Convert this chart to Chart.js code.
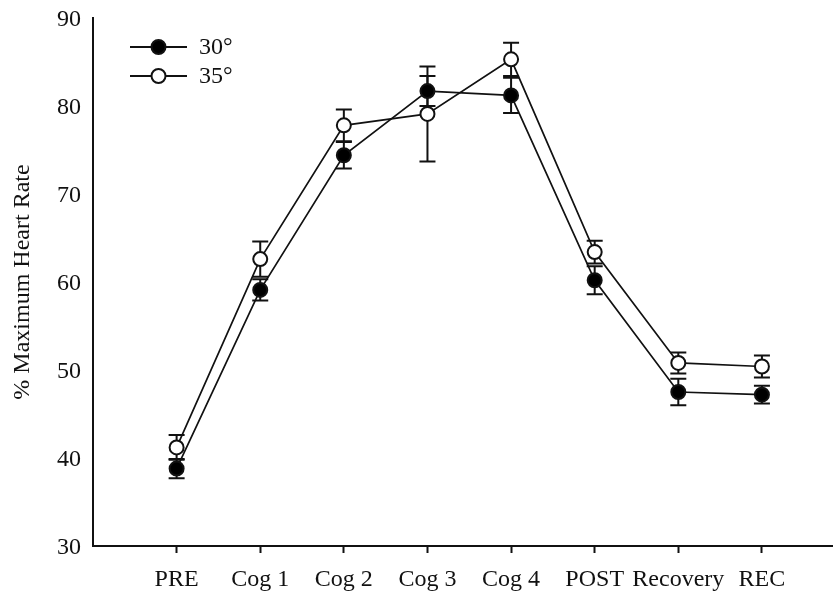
<!DOCTYPE html>
<html>
<head>
<meta charset="utf-8">
<script src="https://cdn.jsdelivr.net/npm/chart.js@4/dist/chart.umd.min.js"></script>
<style>
  html, body { margin: 0; padding: 0; background: #fff; }
  #wrap { width: 833px; height: 594px; position: relative; }
</style>
</head>
<body>
<div id="wrap"><canvas id="c" width="833" height="594"></canvas></div>
<script>
// Test stages along the x axis
const categories = ['PRE', 'Cog 1', 'Cog 2', 'Cog 3', 'Cog 4', 'POST', 'Recovery', 'REC'];

// % maximum heart rate, means and error (±)
const series30 = [38.8, 59.1, 74.4, 81.7, 81.2, 60.2, 47.5, 47.2];
const err30    = [1.1, 1.2, 1.5, 1.7, 2.0, 1.6, 1.5, 1.0];
const series35 = [41.2, 62.6, 77.8, 79.1, 85.3, 63.4, 50.8, 50.4];
const err35    = [1.4, 2.0, 1.8, 5.4, 1.9, 1.3, 1.2, 1.25];

const yTicks = [30, 40, 50, 60, 70, 80, 90];
const seriesLabels = ['30°', '35°'];

const FONT = '"Liberation Serif", "Times New Roman", serif';
const INK = '#111';

function toPoints(vals) {
  return vals.map((v, i) => ({ x: i + 1, y: v }));
}

// Vertical error bars with caps, drawn under the markers
const errorBars = {
  id: 'errorBars',
  beforeDatasetsDraw(chart) {
    const { ctx, scales: { x, y } } = chart;
    const errs = [err30, err35];
    ctx.save();
    ctx.strokeStyle = INK;
    ctx.lineWidth = 2;
    chart.data.datasets.forEach((ds, di) => {
      ds.data.forEach((p, i) => {
        const e = errs[di][i];
        const px = x.getPixelForValue(p.x);
        const yt = y.getPixelForValue(p.y + e);
        const yb = y.getPixelForValue(p.y - e);
        const cap = 8;
        ctx.beginPath();
        ctx.moveTo(px, yt); ctx.lineTo(px, yb);
        ctx.moveTo(px - cap, yt); ctx.lineTo(px + cap, yt);
        ctx.moveTo(px - cap, yb); ctx.lineTo(px + cap, yb);
        ctx.stroke();
      });
    });
    ctx.restore();
  }
};

// Line-and-marker legend in the upper left of the plot
const markerLegend = {
  id: 'markerLegend',
  afterDraw(chart) {
    const { ctx, chartArea } = chart;
    const x0 = chartArea.left + 37, x1 = chartArea.left + 94;
    const xm = (x0 + x1) / 2;
    ctx.save();
    chart.data.datasets.forEach((ds, i) => {
      const yy = chartArea.top + 29 + i * 29;
      ctx.strokeStyle = INK;
      ctx.lineWidth = 2;
      ctx.beginPath();
      ctx.moveTo(x0, yy); ctx.lineTo(x1, yy);
      ctx.stroke();
      ctx.beginPath();
      ctx.arc(xm, yy, 7, 0, Math.PI * 2);
      ctx.fillStyle = ds.pointBackgroundColor;
      ctx.fill();
      ctx.lineWidth = 2;
      ctx.stroke();
      ctx.fillStyle = INK;
      ctx.font = '24px ' + FONT;
      ctx.textBaseline = 'middle';
      ctx.textAlign = 'left';
      ctx.fillText(ds.label, x1 + 12, yy + 1);
    });
    ctx.restore();
  }
};

new Chart(document.getElementById('c'), {
  type: 'line',
  data: {
    datasets: [
      {
        label: seriesLabels[0],
        data: toPoints(series30),
        borderColor: INK,
        borderWidth: 1.7,
        pointRadius: 7,
        pointBorderWidth: 2,
        pointBorderColor: INK,
        pointBackgroundColor: '#000',
        tension: 0
      },
      {
        label: seriesLabels[1],
        data: toPoints(series35),
        borderColor: INK,
        borderWidth: 1.7,
        pointRadius: 7,
        pointBorderWidth: 2,
        pointBorderColor: INK,
        pointBackgroundColor: '#fff',
        tension: 0
      }
    ]
  },
  options: {
    responsive: false,
    animation: false,
    layout: { autoPadding: false, padding: { top: 18, right: 0, left: 0, bottom: 0 } },
    plugins: {
      legend: { display: false },
      tooltip: { enabled: false }
    },
    scales: {
      x: {
        type: 'linear',
        min: 0,
        max: 8.85,
        afterBuildTicks: (s) => { s.ticks = categories.map((c, i) => ({ value: i + 1 })); },
        afterFit: (s) => { s.height = 48; s.paddingLeft = 0; s.paddingRight = 0; },
        ticks: {
          callback: (v) => categories[v - 1],
          font: { family: FONT, size: 24 },
          color: INK,
          padding: 12,
          maxRotation: 0,
          autoSkip: false
        },
        grid: {
          display: true,
          drawOnChartArea: false,
          drawTicks: true,
          tickLength: 7,
          tickColor: INK,
          tickWidth: 2
        },
        border: { display: true, color: INK, width: 2 }
      },
      y: {
        min: 30,
        max: 90,
        afterBuildTicks: (s) => { s.ticks = yTicks.map(v => ({ value: v })); },
        afterFit: (s) => { s.width = 93; s.paddingTop = 0; s.paddingBottom = 0; },
        ticks: {
          font: { family: FONT, size: 24 },
          color: INK,
          padding: 12,
          labelOffset: 2
        },
        grid: { display: false, drawTicks: false },
        border: { display: true, color: INK, width: 2 },
        title: {
          display: true,
          text: '% Maximum Heart Rate',
          font: { family: FONT, size: 24 },
          color: INK,
          padding: { top: 8, bottom: 0 }
        }
      }
    }
  },
  plugins: [errorBars, markerLegend]
});
</script>
</body>
</html>
